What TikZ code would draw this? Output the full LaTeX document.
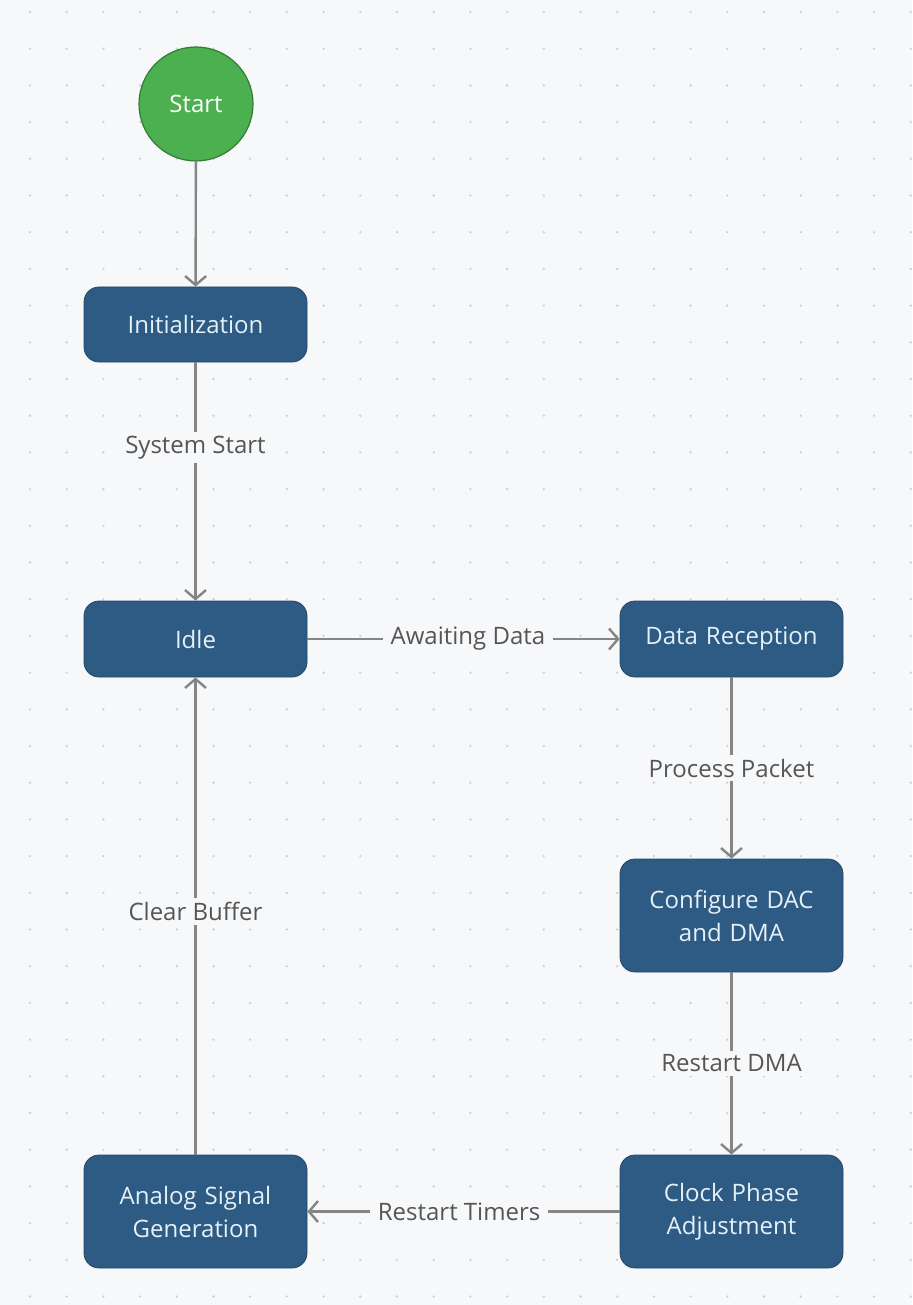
\documentclass[tikz,border=0pt]{standalone}
\usepackage{fontspec}
\setmainfont{Open Sans}
\usetikzlibrary{arrows.meta}
\definecolor{bgc}{HTML}{F7F8FA}
\definecolor{dotc}{HTML}{CDD1D6}
\definecolor{boxc}{HTML}{2D5B84}
\definecolor{boxtxt}{HTML}{E6F0F7}
\definecolor{greenf}{HTML}{4CAF50}
\definecolor{greend}{HTML}{2E7D32}
\definecolor{edgec}{HTML}{858585}
\definecolor{labc}{HTML}{555555}
\tikzset{
  x=1pt, y=-1pt,
  statebox/.style={draw=boxc!80!black, line width=0.8pt, fill=boxc, rounded corners=15pt, minimum width=223pt, text width=215pt, align=center, text=boxtxt, font=\fontsize{24}{33}\selectfont, inner sep=0pt},
  startnode/.style={circle, draw=greend, line width=1.2pt, fill=greenf, minimum size=114pt, inner sep=0pt, text=white, font=\fontsize{24}{33}\selectfont},
  flow/.style={draw=edgec, line width=2.4pt, -{Straight Barb[length=9pt, width=21pt, line width=2.4pt]}},
  elabel/.style={fill=bgc, text=labc, font=\fontsize{24}{30}\selectfont, inner xsep=8pt, inner ysep=4pt},
}
\begin{document}
\begin{tikzpicture}
\useasboundingbox (0,0) rectangle (912,1305);
\fill[bgc] (0,0) rectangle (912,1305);
\foreach \i in {0,...,24}{
  \foreach \j in {0,...,35}{
    \fill[dotc] (30+36.7*\i, 12+36.7*\j) circle (1.3pt);
  }
}
\node[startnode] (start) at (196,104) {Start};
\node[statebox, minimum height=75pt] (init) at (195.5,324.5) {Initialization};
\node[statebox, minimum height=76pt] (idle) at (195.5,639) {Idle};
\node[statebox, minimum height=76pt] (rx) at (731.5,639) {Data Reception};
\node[statebox, minimum height=113pt] (cfg) at (731.5,915.5) {Configure DAC\\and DMA};
\node[statebox, minimum height=113pt] (clk) at (731.5,1211.5) {Clock Phase\\Adjustment};
\node[statebox, minimum height=113pt] (ana) at (195.5,1211.5) {Analog Signal\\Generation};

\draw[flow] (start) -- (init);
\draw[flow] (init) -- node[elabel, pos=0.356] {System Start} (idle);
\draw[flow] (idle) -- node[elabel, pos=0.514] {Awaiting Data} (rx);
\draw[flow] (rx) -- node[elabel, pos=0.5] {Process Packet} (cfg);
\draw[flow] (cfg) -- node[elabel, pos=0.5] {Restart DMA} (clk);
\draw[flow] (clk) -- node[elabel, pos=0.514] {Restart Timers} (ana);
\draw[flow] (ana) -- node[elabel, pos=0.51] {Clear Buffer} (idle);
\end{tikzpicture}
\end{document}
